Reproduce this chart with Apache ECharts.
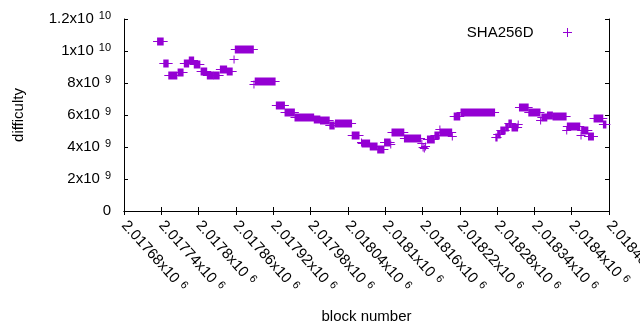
<!DOCTYPE html>
<html>
<head>
<meta charset="utf-8">
<script src="https://cdn.jsdelivr.net/npm/echarts@6/dist/echarts.min.js"></script>
<style>
  html, body { margin: 0; background: #fff; }
  #main { width: 640px; height: 330px; }
</style>
</head>
<body>
<div id="main"></div>
<script>
// difficulty stays constant over runs of blocks: first block, last block, difficulty
var runStart = [
  2017734, 2017744, 2017752, 2017767, 2017777, 2017785, 2017793, 2017804, 2017814, 2017824,
  2017835, 2017846, 2017857, 2017859, 2017889, 2017891, 2017925, 2017939, 2017955, 2017986,
  2017996, 2018011, 2018020, 2018047, 2018062, 2018063, 2018076, 2018088, 2018099, 2018109,
  2018111, 2018131, 2018159, 2018161, 2018163, 2018165, 2018168, 2018180, 2018188, 2018189,
  2018208, 2018211, 2018222, 2018278, 2018281, 2018286, 2018294, 2018299, 2018304, 2018314,
  2018316, 2018331, 2018350, 2018352, 2018361, 2018370, 2018392, 2018393, 2018415, 2018416,
  2018427, 2018436, 2018451
];
var runEnd = [
  2017743, 2017751, 2017765, 2017775, 2017784, 2017792, 2017802, 2017813, 2017823, 2017833,
  2017845, 2017854, 2017857, 2017888, 2017889, 2017923, 2017938, 2017954, 2017985, 2017995,
  2018010, 2018018, 2018046, 2018058, 2018062, 2018075, 2018087, 2018098, 2018108, 2018109,
  2018130, 2018157, 2018159, 2018161, 2018163, 2018165, 2018179, 2018187, 2018188, 2018207,
  2018208, 2018220, 2018276, 2018280, 2018285, 2018293, 2018298, 2018303, 2018313, 2018314,
  2018330, 2018349, 2018350, 2018360, 2018369, 2018391, 2018392, 2018413, 2018415, 2018426,
  2018435, 2018450, 2018455
];
var runDifficulty = [
  1.061e10, 9.23e9, 8.53e9, 8.66e9, 9.28e9, 9.41e9, 9.18e9, 8.77e9, 8.47e9, 8.51e9,
  8.86e9, 8.78e9, 9.48e9, 1.011e10, 7.94e9, 8.10e9, 6.60e9, 6.18e9, 5.87e9, 5.74e9,
  5.66e9, 5.36e9, 5.49e9, 4.73e9, 4.33e9, 4.23e9, 4.06e9, 3.85e9, 4.33e9, 4.16e9,
  4.92e9, 4.54e9, 4.22e9, 4.03e9, 3.94e9, 4.06e9, 4.48e9, 4.75e9, 5.14e9, 4.92e9,
  4.69e9, 5.94e9, 6.17e9, 4.62e9, 4.80e9, 5.04e9, 5.27e9, 5.48e9, 5.22e9, 5.46e9,
  6.48e9, 6.17e9, 5.66e9, 5.90e9, 6.02e9, 5.94e9, 5.09e9, 5.31e9, 4.75e9, 5.04e9,
  4.69e9, 5.79e9, 5.42e9
];

// axis ticks
var xMin = 2017680, xMax = 2018460, xStep = 60;
var xTickMantissa = ['2.01768', '2.01774', '2.0178', '2.01786', '2.01792', '2.01798', '2.01804',
  '2.0181', '2.01816', '2.01822', '2.01828', '2.01834', '2.0184', '2.01846'];
var xTickExponent = 6;
var yMin = 0, yMax = 1.2e10, yStep = 2e9;
var yTickMantissa = ['0', '2', '4', '6', '8', '1', '1.2'];
var yTickExponent = [null, 9, 9, 9, 9, 10, 10];

var FONT = 'Liberation Sans, Arial, sans-serif';
var PURPLE = '#9400d3';

var data = runStart.map(function (s, i) {
  return [s, runEnd[i], runDifficulty[i]];
});

var richTick = {
  m: { fontSize: 15, fontFamily: FONT, color: '#000', lineHeight: 17 },
  s: { fontSize: 11, fontFamily: FONT, color: '#000', verticalAlign: 'top', lineHeight: 11, padding: [0, 0, 0, 5] }
};

var myChart = echarts.init(document.getElementById('main'));

var option = {
  animation: false,
  backgroundColor: '#fff',
  grid: { left: 124, right: 31, top: 19, bottom: 119, containLabel: false, outerBoundsMode: 'none' },
  legend: {
    data: ['SHA256D'],
    right: 63,
    top: 20,
    align: 'right',
    itemWidth: 58,
    itemHeight: 9,
    icon: 'path://M0,4H9V5H0Z M4,0H5V9H4Z',
    textStyle: { fontSize: 15, fontFamily: FONT, color: '#000' }
  },
  xAxis: [
    {
      type: 'value',
      min: xMin,
      max: xMax,
      interval: xStep,
      name: 'block number',
      nameLocation: 'middle',
      nameGap: 98,
      nameTextStyle: { fontSize: 15, fontFamily: FONT, color: '#000' },
      axisLine: { show: true, lineStyle: { color: '#000', width: 1 } },
      axisTick: { inside: true, length: 4, lineStyle: { color: '#000' } },
      splitLine: { show: false },
      axisLabel: {
        rotate: -48,
        margin: 12,
        showMinLabel: true,
        showMaxLabel: true,
        hideOverlap: false,
        formatter: function (v) {
          var i = Math.round((v - xMin) / xStep);
          return '{m|' + xTickMantissa[i] + 'x10}{s|' + xTickExponent + '}';
        },
        rich: richTick
      }
    },
    {
      type: 'value',
      position: 'top',
      min: xMin,
      max: xMax,
      interval: xStep,
      axisLine: { show: true, lineStyle: { color: '#000', width: 1 } },
      axisTick: { inside: true, length: 4, lineStyle: { color: '#000' } },
      axisLabel: { show: false },
      splitLine: { show: false }
    }
  ],
  yAxis: [
    {
      type: 'value',
      min: yMin,
      max: yMax,
      interval: yStep,
      name: 'difficulty',
      nameLocation: 'middle',
      nameRotate: 90,
      nameGap: 98,
      nameTextStyle: { fontSize: 15, fontFamily: FONT, color: '#000' },
      axisLine: { show: true, lineStyle: { color: '#000', width: 1 } },
      axisTick: { show: true, inside: true, length: 4, lineStyle: { color: '#000' } },
      splitLine: { show: false },
      axisLabel: {
        margin: 13,
        formatter: function (v) {
          var i = Math.round((v - yMin) / yStep);
          if (yTickExponent[i] === null) return '{m|' + yTickMantissa[i] + '}';
          return '{m|' + yTickMantissa[i] + 'x10}{s|' + yTickExponent[i] + '}';
        },
        rich: richTick
      }
    },
    {
      type: 'value',
      position: 'right',
      min: yMin,
      max: yMax,
      interval: yStep,
      axisLine: { show: true, lineStyle: { color: '#000', width: 1 } },
      axisTick: { show: true, inside: true, length: 4, lineStyle: { color: '#000' } },
      axisLabel: { show: false },
      splitLine: { show: false }
    }
  ],
  series: [
    {
      name: 'SHA256D',
      type: 'custom',
      xAxisIndex: 0,
      yAxisIndex: 0,
      itemStyle: { color: PURPLE },
      encode: { x: [0, 1], y: 2 },
      clip: false,
      data: data,
      // each run is a row of "+" marks, one per block, that blend into a bar
      renderItem: function (params, api) {
        var a = api.coord([api.value(0), api.value(2)]);
        var b = api.coord([api.value(1), api.value(2)]);
        var y = Math.round(a[1]) + 0.5;
        return {
          type: 'group',
          children: [
            {
              type: 'rect',
              shape: { x: a[0] - 0.5, y: y - 4, width: b[0] - a[0] + 1, height: 8 },
              style: { fill: PURPLE }
            },
            {
              type: 'line',
              shape: { x1: a[0] - 4.5, y1: y, x2: b[0] + 4.5, y2: y },
              style: { stroke: PURPLE, lineWidth: 1 }
            }
          ]
        };
      }
    }
  ]
};

option && myChart.setOption(option);
</script>
</body>
</html>
